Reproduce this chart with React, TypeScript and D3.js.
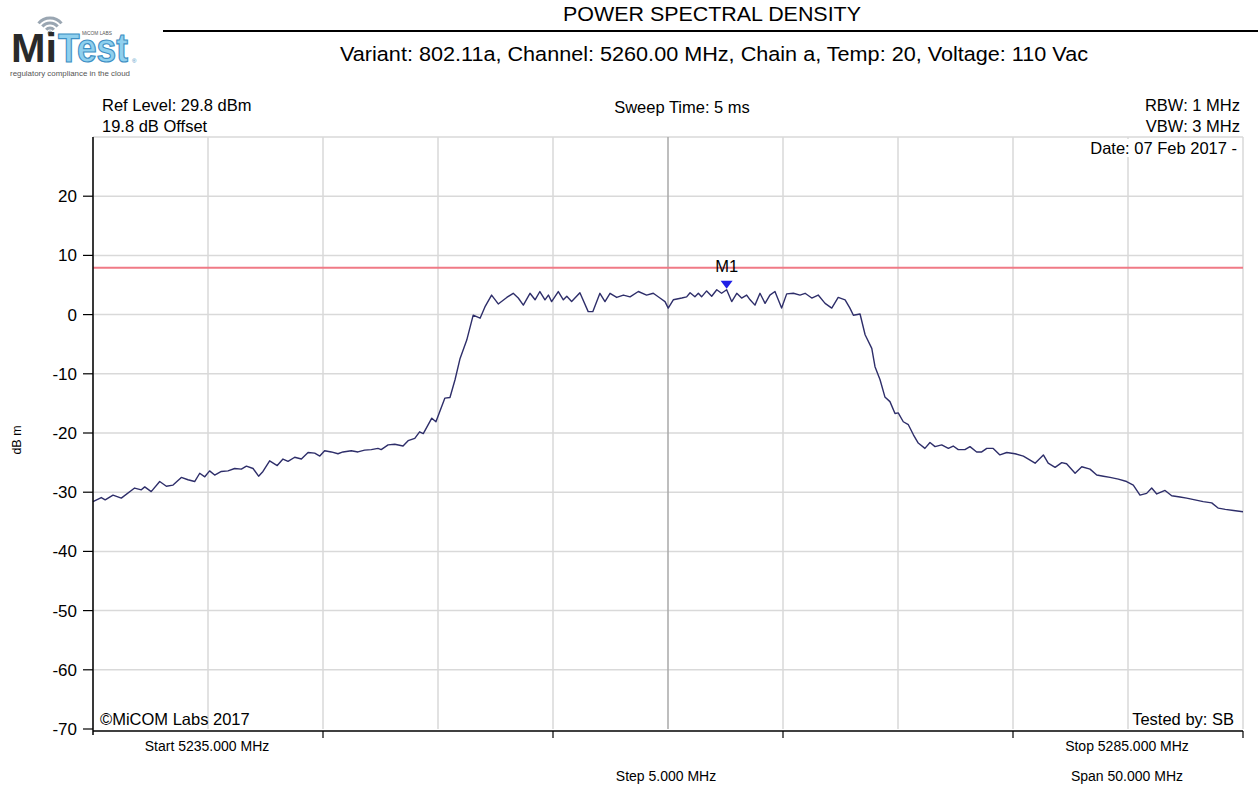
import React from "react";
import * as d3 from "d3";

// ---- data ----
const START_MHZ = 5235;
const SPAN_MHZ = 50;
const yTicks = [20, 10, 0, -10, -20, -30, -40, -50, -60, -70];
const gridY = [30, 20, 10, 0, -10, -20, -30, -40, -50, -60];
const gridX = [0, 5, 10, 15, 20, 25, 30, 35, 40, 45, 50];
const bottomTicks = [10, 20, 30, 40, 50];
const limitLine = 7.9;
const markerOffsetMHz = 27.55;
const markerLevel = 4.2;

// trace: frequency offset from start (MHz) and level (dBm)
const traceOffsetMHz = [
  0.0, 0.36, 0.53, 0.87, 1.23, 1.81, 2.1, 2.25, 2.53, 2.9, 3.19, 3.48, 3.84, 4.13, 4.42, 4.64, 4.86, 5.07, 5.29, 5.58,
  5.87, 6.16, 6.45, 6.67, 6.96, 7.2, 7.39, 7.68, 8.01, 8.26, 8.48, 8.77, 9.06, 9.35, 9.64, 9.86, 10.07, 10.36, 10.65, 10.87,
  11.23, 11.52, 11.81, 12.1, 12.39, 12.53, 12.83, 13.12, 13.48, 13.7, 13.99, 14.2, 14.36, 14.73, 14.91, 15.3, 15.52, 15.74, 15.96, 16.25,
  16.53, 16.83, 17.04, 17.33, 17.62, 17.99, 18.27, 18.49, 18.71, 19.0, 19.22, 19.43, 19.65, 19.8, 19.94, 20.23, 20.45, 20.6, 20.81, 21.17,
  21.53, 21.73, 22.04, 22.26, 22.48, 22.77, 23.06, 23.35, 23.71, 24.07, 24.36, 24.65, 24.87, 25.01, 25.23, 25.6, 25.81, 25.96, 26.17, 26.32,
  26.46, 26.68, 26.9, 27.12, 27.33, 27.55, 27.77, 27.99, 28.2, 28.42, 28.57, 28.78, 29.0, 29.22, 29.43, 29.65, 29.94, 30.16, 30.45, 30.74,
  30.96, 31.25, 31.53, 31.83, 32.12, 32.4, 32.7, 32.91, 33.06, 33.35, 33.57, 33.86, 34.0, 34.22, 34.43, 34.65, 34.87, 35.01, 35.23, 35.45,
  35.67, 35.88, 36.17, 36.39, 36.61, 36.9, 37.19, 37.4, 37.62, 37.91, 38.13, 38.42, 38.64, 38.86, 39.14, 39.43, 39.73, 40.09, 40.45, 40.67,
  40.96, 41.32, 41.53, 41.83, 42.12, 42.33, 42.7, 42.99, 43.35, 43.64, 43.93, 44.22, 44.58, 44.94, 45.23, 45.52, 45.81, 46.03, 46.25, 46.61,
  46.9, 47.26, 47.55, 47.91, 48.27, 48.64, 48.93, 49.23, 49.59, 50.0,
];
const traceLevel = [
  -31.6, -30.9, -31.3, -30.5, -31.0, -29.3, -29.6, -29.1, -29.9, -28.2, -29.0, -28.8, -27.5, -27.9, -28.2, -26.8, -27.4, -26.4, -27.1, -26.5,
  -26.4, -26.0, -26.1, -25.6, -26.0, -27.3, -26.5, -24.7, -25.5, -24.4, -24.8, -24.1, -24.4, -23.3, -23.4, -23.9, -23.0, -23.2, -23.5, -23.2,
  -23.0, -23.2, -22.9, -22.8, -22.6, -22.8, -22.0, -21.9, -22.2, -21.3, -20.9, -19.8, -20.1, -17.5, -18.1, -14.1, -14.0, -11.0, -7.4, -4.3,
  -0.1, -0.6, 1.3, 3.3, 1.8, 2.9, 3.6, 2.8, 1.6, 3.6, 2.5, 3.9, 2.5, 3.3, 2.2, 3.9, 2.5, 3.1, 2.2, 3.7,
  0.5, 0.5, 3.6, 2.2, 3.6, 2.9, 3.3, 3.0, 3.9, 3.3, 3.6, 2.8, 2.2, 1.1, 2.5, 2.8, 3.0, 3.7, 3.0, 3.6,
  3.0, 4.0, 3.1, 4.2, 3.6, 4.2, 2.2, 3.6, 2.8, 3.3, 2.5, 1.6, 3.6, 1.9, 3.3, 3.9, 1.1, 3.5, 3.6, 3.3,
  3.6, 2.8, 3.3, 1.9, 1.1, 2.9, 2.5, 1.1, -0.1, 0.1, -3.4, -5.7, -8.8, -11.0, -13.9, -14.7, -16.7, -16.6, -18.1, -18.6,
  -20.3, -21.7, -22.6, -21.6, -22.3, -22.0, -22.6, -22.2, -22.8, -22.8, -22.3, -23.2, -23.2, -22.6, -22.6, -23.7, -23.3, -23.5, -23.9, -24.4,
  -25.1, -23.7, -25.1, -25.8, -25.0, -25.2, -26.8, -25.7, -26.1, -27.1, -27.3, -27.5, -27.8, -28.2, -28.8, -30.5, -30.2, -29.3, -30.3, -29.7,
  -30.6, -30.8, -31.0, -31.3, -31.6, -31.8, -32.7, -32.9, -33.1, -33.3,
];

const title = "POWER SPECTRAL DENSITY";
const subtitle = "Variant: 802.11a, Channel: 5260.00 MHz, Chain a, Temp: 20, Voltage: 110 Vac";

const FONT = "'Liberation Sans', Arial, sans-serif";

export default function App() {
  const left = 93, right = 1243, top = 137, bottom = 729;
  const x = d3.scaleLinear().domain([0, SPAN_MHZ]).range([left, right]);
  const y = d3.scaleLinear().domain([30, -70]).range([top, bottom]);
  const pts = traceOffsetMHz.map((f, i) => [f, traceLevel[i]] as [number, number]);
  const line = d3.line<[number, number]>().x((d) => x(d[0])).y((d) => y(d[1]));
  const mx = x(markerOffsetMHz);
  const my = y(markerLevel) - 1;
  const arc = (r: number) => {
    const a = (50 * Math.PI) / 180;
    const cx = 50, cy = 33;
    return `M${cx - r * Math.sin(a)},${cy - r * Math.cos(a)} A${r},${r} 0 0 1 ${cx + r * Math.sin(a)},${cy - r * Math.cos(a)}`;
  };
  const fs = 16.5;
  return (
    <svg width={1258} height={786} style={{ position: "absolute", left: 0, top: 0, background: "#fff" }} fontFamily={FONT}>
      <rect width={1258} height={786} fill="#fff" />
      {/* logo */}
      <g>
        {[5, 10, 15].map((r) => (
          <path key={r} d={arc(r)} fill="none" stroke="#9aa6b2" strokeWidth={3} />
        ))}
        <circle cx={50} cy={33} r={2.5} fill="#9aa6b2" />
        <text x={11} y={62} fontSize={40} fontWeight="bold" fill="#2a2a2a" textLength={46} lengthAdjust="spacingAndGlyphs">Mi</text>
        <text x={58} y={62} fontSize={40} fontWeight="bold" fill="#8fd0ee" stroke="#3d8fc4" strokeWidth={1.2} textLength={70} lengthAdjust="spacingAndGlyphs">Test</text>
        <text x={82} y={35} fontSize={4.5} fill="#555" textLength={30} lengthAdjust="spacingAndGlyphs">MiCOM LABS</text>
        <text x={132} y={63} fontSize={6} fill="#3d8fc4">®</text>
        <text x={10} y={76} fontSize={8} fill="#555" textLength={120} lengthAdjust="spacingAndGlyphs">regulatory compliance in the cloud</text>
      </g>
      {/* header */}
      <text x={712} y={21} fontSize={20.5} textAnchor="middle" fill="#000" textLength={298} lengthAdjust="spacingAndGlyphs">{title}</text>
      <line x1={163} x2={1258} y1={31} y2={31} stroke="#000" strokeWidth={2} />
      <text x={714} y={61} fontSize={20.5} textAnchor="middle" fill="#000" textLength={748} lengthAdjust="spacingAndGlyphs">{subtitle}</text>
      {/* grid */}
      {gridY.map((v) => (
        <line key={"gy" + v} x1={left} x2={right} y1={y(v)} y2={y(v)} stroke="#d9d9d9" strokeWidth={1.5} />
      ))}
      {gridX.map((v) => (
        <line key={"gx" + v} x1={x(v)} x2={x(v)} y1={top} y2={bottom} stroke={v === 25 ? "#a8a8a8" : "#d9d9d9"} strokeWidth={1.5} />
      ))}
      {/* info texts */}
      <text x={102} y={111} fontSize={fs} fill="#000">Ref Level: 29.8 dBm</text>
      <text x={102} y={132} fontSize={fs} fill="#000">19.8 dB Offset</text>
      <text x={682} y={113} fontSize={fs} textAnchor="middle" fill="#000">Sweep Time: 5 ms</text>
      <text x={1240} y={111} fontSize={fs} textAnchor="end" fill="#000">RBW: 1 MHz</text>
      <text x={1240} y={132} fontSize={fs} textAnchor="end" fill="#000">VBW: 3 MHz</text>
      <rect x={1086} y={139} width={152} height={18} fill="#fff" />
      <text x={1237} y={154} fontSize={fs} textAnchor="end" fill="#000">Date: 07 Feb 2017 -</text>
      <text x={100} y={725} fontSize={fs} fill="#000">©MiCOM Labs 2017</text>
      <text x={1234} y={725} fontSize={fs} textAnchor="end" fill="#000">Tested by: SB</text>
      {/* limit line */}
      <line x1={left} x2={right} y1={y(limitLine)} y2={y(limitLine)} stroke="#f07a86" strokeWidth={2} />
      {/* trace */}
      <path d={line(pts) || ""} fill="none" stroke="#2e2e6a" strokeWidth={1.4} strokeLinejoin="round" />
      {/* marker */}
      <path d={`M${mx - 6},${my - 8} L${mx + 6},${my - 8} L${mx},${my} Z`} fill="#1f1fe6" />
      <text x={mx} y={my - 17} fontSize={fs} textAnchor="middle" fill="#000">M1</text>
      {/* axes */}
      <line x1={left} x2={left} y1={top} y2={bottom + 6} stroke="#000" strokeWidth={1.5} />
      <line x1={left} x2={right} y1={bottom + 2} y2={bottom + 2} stroke="#000" strokeWidth={1.5} />
      {yTicks.map((v) => (
        <g key={"yt" + v}>
          <line x1={left - 10} x2={left} y1={y(v)} y2={y(v)} stroke="#000" strokeWidth={1.2} />
          <text x={77} y={y(v) + 6} fontSize={17} textAnchor="end" fill="#000">{v}</text>
        </g>
      ))}
      {bottomTicks.map((v) => (
        <line key={"bt" + v} x1={x(v)} x2={x(v)} y1={bottom + 2} y2={bottom + 9} stroke="#000" strokeWidth={1.2} />
      ))}
      <text x={21} y={440} fontSize={12.5} textAnchor="middle" fill="#000" transform="rotate(-90 21 440)">dB m</text>
      <text x={207} y={751} fontSize={14} textAnchor="middle" fill="#000">Start 5235.000 MHz</text>
      <text x={1127} y={751} fontSize={14} textAnchor="middle" fill="#000">Stop 5285.000 MHz</text>
      <text x={666} y={781} fontSize={14} textAnchor="middle" fill="#000">Step 5.000 MHz</text>
      <text x={1127} y={781} fontSize={14} textAnchor="middle" fill="#000">Span 50.000 MHz</text>
    </svg>
  );
}
